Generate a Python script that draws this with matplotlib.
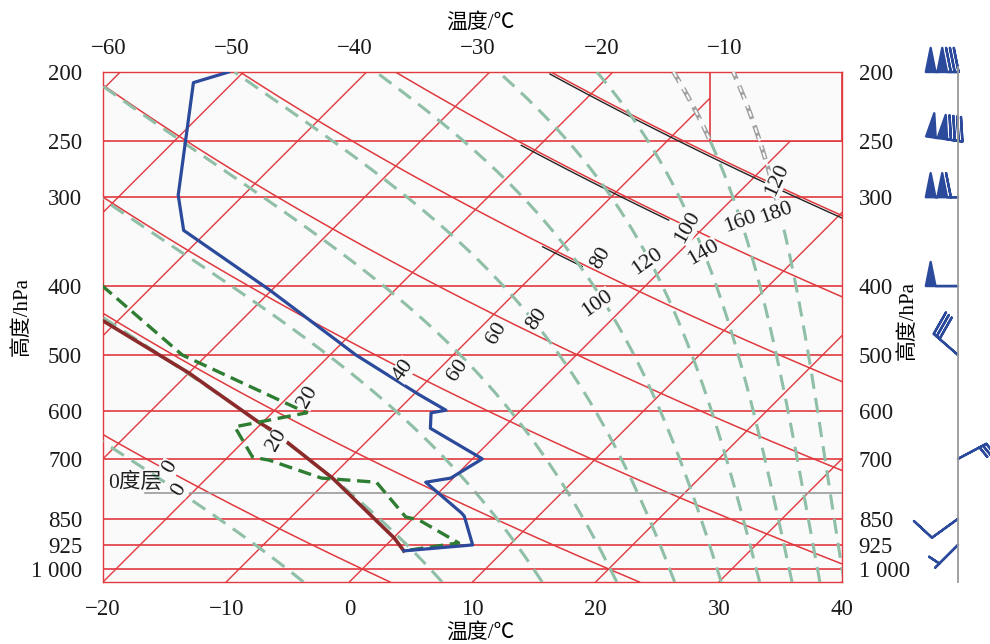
import numpy as np
import matplotlib
matplotlib.use('Agg')
import matplotlib.pyplot as plt
import matplotlib.transforms as mtransforms
from matplotlib.patches import Rectangle

plt.rcParams['font.family'] = ['Liberation Serif', 'Noto Sans CJK SC']
plt.rcParams['axes.unicode_minus'] = True

# sounding (hPa, degC)
temp_p = [200, 207, 298, 334, 405, 500, 569, 598, 603, 634, 700, 745, 755, 834, 843, 925, 943]
temp_t = [-51.2, -53.2, -45.3, -42.0, -30.2, -17.9, -9.5, -6.1, -7.1, -5.9, 0.8, -0.2, -1.9, 3.5, 4.0, 7.0, 1.9]
dew_p = [399, 500, 603, 631, 696, 703, 745, 755, 845, 853, 919, 943]
dew_t = [-44.2, -32.0, -17.2, -21.9, -18.0, -16.4, -10.7, -5.9, -0.7, 0.6, 5.7, 1.9]
parcel_p = [943, 905, 745, 638, 623, 530, 447]
parcel_t = [1.9, 0.1, -9.8, -18.6, -20.2, -30.0, -41.3]

# wind barbs: level, speed (m/s), direction the wind blows from (deg)
wind_p = [200, 250, 300, 400, 500, 700, 850, 925]
wind_spd = [52, 56, 44, 20, 12, 10, 4, 2]
wind_dir = [270, 278, 270, 270, 311, 62, 234, 225]

# background lines
isobars = [250, 300, 400, 500, 600, 700, 850, 925, 1000]
isotherms = list(range(-100, 50, 10))
dry_theta = [0, 20, 40, 60, 80, 100, 120]
moist_theta = [0, 20, 40, 60, 80, 100, 120, 140, 160, 180]
p_ticks = [200, 250, 300, 400, 500, 600, 700, 850, 925, 1000]
p_labels = ['200', '250', '300', '400', '500', '600', '700', '850', '925', '1 000']
t_bottom = [-20, -10, 0, 10, 20, 30, 40]
t_top = [-60, -50, -40, -30, -20, -10]

# curve labels: text, x (skewed deg), p, rotation
dry_lab = [('0', -14.6, 719, 60), ('20', -3.4, 573, 60), ('40', 4.4, 525, 55),
           ('60', 12.0, 466, 60), ('80', 20.4, 365, 60), ('100', 27.5, 331, 60),
           ('120', 34.7, 284, 65)]
moist_lab = [('0', -13.8, 774, 60), ('20', -5.9, 659, 60), ('60', 8.8, 525, 55),
             ('80', 15.2, 446, 55), ('100', 20.1, 423, 35), ('120', 24.2, 370, 35),
             ('140', 28.7, 359, 30), ('160', 31.7, 325, 20), ('180', 34.7, 316, 20)]

P_BOT, P_TOP = 1043, 200
K = 25.07  # skew so that isotherms run at 45 degrees
RED = '#e0393e'
BG = '#fafafa'


def skew(t, p):
    return np.asarray(t) + K * np.log(P_BOT / np.asarray(p, dtype=float))


def theta_se(tk, p):
    tc = tk - 273.15
    es = 6.112 * np.exp(17.67 * tc / (tc + 243.5))
    rs = 0.622 * es / (p - es)
    return tk * (1000.0 / p) ** 0.286 * np.exp(2.5e6 * rs / (1004.0 * tk))


def moist_t(th, p):
    lo = np.full_like(p, 150.0)
    hi = np.full_like(p, 318.0)
    for _ in range(50):
        mid = (lo + hi) / 2
        up = theta_se(mid, p) > th
        hi = np.where(up, mid, hi)
        lo = np.where(up, lo, mid)
    return (lo + hi) / 2 - 273.15


fig = plt.figure(figsize=(9.9, 6.44), dpi=100)
L, B = 103 / 990, 62 / 644
W, H = 739 / 990, 510 / 644
ax = fig.add_axes([L, B, W, H])
ax.set_facecolor(BG)
ax.set_yscale('log')
ax.set_ylim(P_BOT, P_TOP)
ax.set_xlim(-20, 40)

pp = np.geomspace(P_BOT, P_TOP, 200)

for t in isotherms:
    ax.plot(skew(t, pp), pp, color=RED, lw=1.0, zorder=2)
for p in isobars:
    ax.axhline(p, color=RED, lw=1.2, zorder=2)
for th in dry_theta:
    tt = (th + 273.15) * (pp / 1000.0) ** 0.286 - 273.15
    ax.plot(skew(tt, pp), pp, color=RED, lw=1.1, zorder=2)

# black companion lines on the upper dry adiabats
off = ax.transData + mtransforms.ScaledTranslation(-0.01, -0.02, fig.dpi_scale_trans)
for th, p1, p2 in [(80, 350, 373), (100, 252, 321), (120, 200, 330)]:
    ps = np.geomspace(p1, p2, 40)
    tt = (th + 273.15) * (ps / 1000.0) ** 0.286 - 273.15
    ax.plot(skew(tt, ps), ps, color='#222222', lw=1.0, transform=off, zorder=2.2)

# blank box in the upper right corner
ax.add_patch(Rectangle((29.3, 250), 10.7, -50, facecolor=BG, edgecolor=RED,
                       lw=1.2, zorder=2.5))

for th in moist_theta:
    tt = moist_t(th + 273.15, pp)
    xs = skew(tt, pp)
    cut = {160: 250, 180: 305}.get(th, 0)
    low = pp >= cut
    ax.plot(xs[low], pp[low], color='#8fbfa6', lw=2.2, dashes=(5, 3), zorder=3)
    if cut:
        hi_ = pp <= cut
        ax.plot(xs[hi_], pp[hi_], color='#a0a0a0', lw=3.4, dashes=(3, 1.5), zorder=3)
        ax.plot(xs[hi_], pp[hi_], color=BG, lw=1.4, dashes=(3, 1.5), zorder=3.1)

# zero degree level
ax.plot([-16.6, 40], [782, 782], color='#9a9a9a', lw=1.2, zorder=3)
ax.text(-19.6, 782, '0度层', fontsize=15.5, color='#222222', va='bottom', ha='left',
        zorder=6)

ax.plot(skew(parcel_t, parcel_p), parcel_p, color='#8b2a2a', lw=2.6, zorder=4)
ax.plot(skew(dew_t, dew_p), dew_p, color='#2e7d32', lw=2.4, dashes=(4, 2), zorder=4.5)
ax.plot(skew(temp_t, temp_p), temp_p, color='#2b4a9b', lw=2.3, zorder=5)

for txt, x, p, r in dry_lab + moist_lab:
    ax.text(x, p, txt, fontsize=16, rotation=r, ha='center', va='center',
            color='#1a1a1a', zorder=6, rotation_mode='anchor',
            bbox=dict(facecolor=BG, edgecolor='none', pad=0.2))

for s in ax.spines.values():
    s.set_color(RED)
    s.set_linewidth(1.0)
ax.add_patch(Rectangle((100 / 990, 59 / 644), 745 / 990, 516 / 644, fill=False,
                       edgecolor='#f3bcbc', lw=2.2, transform=fig.transFigure))
ax.add_patch(Rectangle((100 / 990, 59 / 644), 745 / 990, 516 / 644, fill=False,
                       edgecolor=RED, lw=1.0, transform=fig.transFigure))

ax.set_yticks(p_ticks)
ax.set_yticklabels(p_labels)
ax.minorticks_off()
ax.set_xticks(t_bottom)
ax.tick_params(length=0, labelsize=16.5, colors='#1a1a1a')
ax.tick_params(axis='x', pad=12)
ax.tick_params(axis='y', pad=15)

axr = ax.twinx()
axr.set_yscale('log')
axr.set_ylim(P_BOT, P_TOP)
axr.set_yticks(p_ticks)
axr.set_yticklabels(p_labels)
axr.minorticks_off()
axr.tick_params(length=0, labelsize=16.5, pad=12, colors='#1a1a1a')
for s in axr.spines.values():
    s.set_visible(False)

axt = ax.twiny()
axt.set_xlim(-20 - 40.45, 40 - 40.45)
axt.set_xticks(t_top)
axt.tick_params(length=0, labelsize=16.5, pad=9, colors='#1a1a1a')
for s in axt.spines.values():
    s.set_visible(False)

fig.text(480 / 990, 1 - 23 / 644, '温度/℃', fontsize=15, ha='center', va='center')
fig.text(480 / 990, 1 - 633 / 644, '温度/℃', fontsize=15, ha='center', va='center')
fig.text(22 / 990, 1 - 317 / 644, '高度/hPa', fontsize=15, ha='center', va='center',
         rotation=90)
fig.text(908 / 990, 1 - 320 / 644, '高度/hPa', fontsize=15, ha='center', va='center',
         rotation=90)

# wind barbs panel
axw = fig.add_axes([870 / 990, B, 120 / 990, H])
axw.set_yscale('log')
axw.set_ylim(P_BOT, P_TOP)
axw.set_xlim(0, 1)
axw.axis('off')
axw.plot([0.733, 0.733], [P_BOT, 197], color='#9a9a9a', lw=1.3, clip_on=False)
d = np.deg2rad(wind_dir)
spd = np.array(wind_spd, dtype=float)
axw.barbs(np.full(len(wind_p), 0.733), wind_p, -spd * np.sin(d), -spd * np.cos(d),
          length=6.8, barb_increments=dict(half=2, full=4, flag=20),
          sizes=dict(spacing=0.12, height=0.75, width=0.3),
          color='#2b4a9b', lw=1.7, clip_on=False)

fig.savefig('out.png', dpi=100)
